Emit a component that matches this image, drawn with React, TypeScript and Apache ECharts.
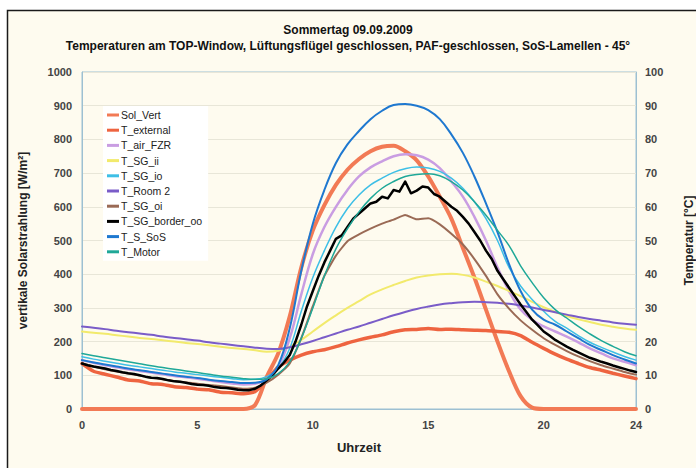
import React, { useEffect, useRef } from "react";
import * as echarts from "echarts";

const TITLE_1 = "Sommertag 09.09.2009";
const TITLE_2 = "Temperaturen am TOP-Window, Lüftungsflügel geschlossen, PAF-geschlossen, SoS-Lamellen - 45°";
const X_NAME = "Uhrzeit";
const Y_LEFT_NAME = "vertikale Solarstrahlung [W/m²]";
const Y_RIGHT_NAME = "Temperatur [°C]";

// half-hour grid 0..24
const HOURS: number[] = Array.from({ length: 49 }, (_, i) => i * 0.5);
// quarter-hour grid 0..24
const HOURS_Q: number[] = Array.from({ length: 97 }, (_, i) => i * 0.25);

const SOL_VERT = [
  0, 0, 0, 0, 0, 0, 0, 0, 0, 0, 0, 0, 0, 0, 0,
  12, 95, 165, 275, 420, 530, 605, 665, 710, 742, 765, 778, 781, 765, 738, 690, 630, 565, 478, 390, 295, 200, 112, 38, 4,
  0, 0, 0, 0, 0, 0, 0, 0, 0,
];
const T_EXTERNAL = [
  13.5, 11.2, 10.3, 9.5, 8.6, 8.3, 7.5, 7.3, 6.6, 6.4, 5.9, 5.7, 5.0, 4.8, 4.5, 5.2,
  8.5, 12.5, 14.5, 16.0, 17.0, 17.6, 18.5, 19.6, 20.5, 21.3, 22.0, 22.9, 23.5, 23.6, 23.9, 23.6,
  23.7, 23.5, 23.4, 23.3, 23.0, 22.8, 21.8, 19.8, 18.0, 16.3, 14.8, 13.5, 12.3, 11.5, 10.6, 9.8, 9.0,
];
const T_AIR_FZR = [
  14.5, 13.7, 13.0, 12.4, 11.8, 11.3, 10.8, 10.3, 9.8, 9.4, 9.0, 8.5, 8.0, 7.6, 7.3, 7.5,
  8.8, 12.5, 21.0, 34.0, 46.0, 54.0, 60.0, 65.0, 69.0, 71.7, 73.5, 75.0, 75.6, 75.3, 74.0, 71.5,
  67.5, 63.0, 57.0, 50.0, 42.0, 35.0, 29.5, 26.5, 24.5, 23.0, 21.5, 19.8, 18.0, 16.5, 15.0, 14.0, 13.0,
];
const T_SG_II = [
  23.0, 22.6, 22.3, 21.9, 21.5, 21.1, 20.8, 20.4, 20.0, 19.6, 19.3, 18.9, 18.5, 18.1, 17.8, 17.4,
  17.0, 17.3, 18.5, 20.5, 23.0, 25.5, 27.8, 30.0, 32.0, 34.0, 35.5, 36.8, 38.0, 39.0, 39.6, 40.0,
  40.1, 39.8, 39.0, 37.8, 36.5, 35.0, 33.5, 31.8, 30.2, 28.8, 27.6, 26.6, 25.8, 25.0, 24.4, 23.9, 23.5,
];
const T_SG_IO = [
  15.5, 14.8, 14.2, 13.6, 13.0, 12.5, 12.0, 11.5, 11.0, 10.6, 10.2, 9.8, 9.4, 9.0, 8.7, 8.8,
  9.6, 12.0, 18.0, 29.0, 39.0, 47.0, 54.0, 59.5, 63.5, 66.5, 68.5, 70.2, 71.3, 71.8, 71.5, 70.5,
  68.5, 65.5, 61.5, 56.5, 50.0, 42.0, 36.5, 32.5, 29.0, 26.0, 24.0, 21.8, 19.8, 18.3, 16.9, 15.6, 14.5,
];
const T_ROOM_2 = [
  24.5, 24.1, 23.7, 23.2, 22.8, 22.4, 22.0, 21.5, 21.1, 20.7, 20.3, 19.8, 19.4, 19.0, 18.6, 18.2,
  17.9, 17.8, 18.3, 19.2, 20.2, 21.3, 22.4, 23.5, 24.5, 25.6, 26.7, 27.8, 28.8, 29.7, 30.4, 31.0,
  31.4, 31.7, 31.8, 31.7, 31.5, 31.2, 30.7, 30.1, 29.4, 28.7, 28.0, 27.3, 26.7, 26.2, 25.7, 25.3, 25.0,
];
const T_SG_OI = [
  13.5, 12.6, 11.8, 11.1, 10.5, 9.9, 9.3, 8.8, 8.3, 7.9, 7.5, 7.1, 6.8, 6.4, 6.0, 6.3,
  7.8, 10.2, 13.5, 21.0, 30.5, 39.5, 45.5, 49.8, 51.8, 53.5, 55.0, 56.2, 57.6, 56.3, 56.6, 54.8,
  52.0, 48.8, 44.5, 39.5, 34.0, 29.8, 26.3, 23.5, 21.0, 19.0, 17.2, 15.6, 14.2, 13.0, 12.0, 11.0, 10.2,
];
const T_SG_BORDER_OO = [
  13.5, 13.0, 12.6, 12.3,
  12.0, 11.6, 11.3, 10.9,
  10.6, 10.4, 10.0, 9.6,
  9.3, 9.2, 8.9, 8.5,
  8.2, 8.1, 7.8, 7.4,
  7.2, 7.1, 6.9, 6.5,
  6.3, 6.2, 6.0, 5.7,
  5.6, 5.6, 6.0, 7.0,
  8.5, 10.0, 12.0, 13.8,
  16.0, 20.0, 25.0, 30.5,
  35.0, 39.5, 43.5, 47.0,
  50.5, 51.5, 54.0, 56.5,
  58.0, 59.5, 61.0, 61.5,
  63.0, 62.5, 65.0, 64.5,
  67.5, 64.0, 64.8, 66.0,
  65.7, 63.8, 63.0, 61.5,
  60.0, 58.8, 57.0, 55.0,
  52.5, 50.0, 47.0, 44.5,
  41.0, 38.5, 36.0, 33.5,
  31.0, 28.8, 26.5, 24.8,
  23.0, 21.8, 20.5, 19.5,
  18.5, 17.6, 16.8, 16.0,
  15.2, 14.6, 14.0, 13.5,
  12.9, 12.4, 11.9, 11.4,
  11.0,
];
const T_S_SOS = [
  14.5, 13.8, 13.2, 12.6, 12.0, 11.5, 11.0, 10.5, 10.0, 9.6, 9.2, 8.7, 8.3, 8.0, 7.7, 7.8,
  8.8, 13.0, 24.0, 41.0, 55.0, 65.0, 73.0, 78.5, 82.5, 86.0, 88.5, 90.2, 90.5, 90.0, 88.7, 86.0,
  81.5, 76.0, 69.0, 61.0, 52.5, 43.0, 35.0, 29.5, 26.5, 25.0, 23.0, 21.0, 19.0, 17.5, 16.0, 14.7, 13.5,
];
const T_MOTOR = [
  16.5, 15.8, 15.2, 14.6, 14.0, 13.4, 12.8, 12.3, 11.8, 11.3, 10.8, 10.3, 9.8, 9.4, 9.0, 8.8,
  9.0, 10.5, 14.0, 21.0, 30.0, 39.5, 47.5, 53.5, 58.5, 62.5, 65.5, 67.5, 69.0, 69.6, 69.8, 69.2,
  67.5, 65.0, 61.5, 57.5, 53.0, 48.5, 42.5, 37.5, 33.0, 29.5, 27.0, 24.5, 22.3, 20.3, 18.6, 17.0, 15.8,
];

const LEGEND_NAMES = [
  "Sol_Vert", "T_external", "T_air_FZR", "T_SG_ii", "T_SG_io",
  "T_Room 2", "T_SG_oi", "T_SG_border_oo", "T_S_SoS", "T_Motor",
];

const FONT = "'Liberation Sans', Arial, sans-serif";

function pairs(hours: number[], vals: number[]) {
  return vals.map((v, i) => [hours[i], v]);
}

export default function App() {
  const ref = useRef<HTMLDivElement>(null);
  useEffect(() => {
    if (!ref.current) return;
    const chart = echarts.init(ref.current, undefined, { renderer: "svg" });
    const mk = (
      name: string, hours: number[], vals: number[], color: string, width: number,
      yAxisIndex: number, smooth: number | boolean
    ) => ({
      name, type: "line", data: pairs(hours, vals), yAxisIndex, smooth,
      showSymbol: false, symbol: "none",
      lineStyle: { color, width, cap: "round", join: "round" },
      itemStyle: { color },
    });
    chart.setOption({
      animation: false,
      backgroundColor: "transparent",
      textStyle: { fontFamily: FONT },
      graphic: [
        {
          type: "rect", z: -10, silent: true,
          shape: { x: 7.5, y: 10.5, width: 720, height: 480 },
          style: { fill: "#FEFBEF", stroke: "#1a1a1a", lineWidth: 1.5 },
        },
        {
          type: "text", left: "center", top: 24, silent: true,
          style: { text: TITLE_1, font: `bold 12px ${FONT}`, fill: "#111" },
        },
        {
          type: "text", left: "center", top: 40, silent: true,
          style: { text: TITLE_2, font: `bold 12px ${FONT}`, fill: "#111" },
        },
      ],
      grid: {
        left: 82, right: 60, top: 72, bottom: 59,
        outerBoundsMode: "none", containLabel: false,
        show: true, borderColor: "#9DC0D2", borderWidth: 1, backgroundColor: "transparent",
      },
      legend: {
        orient: "vertical", left: 103, top: 106,
        data: LEGEND_NAMES,
        icon: "rect", itemWidth: 12, itemHeight: 3, itemGap: 3.2,
        backgroundColor: "#FFFFFF", padding: [3, 6, 3, 4],
        textStyle: { fontFamily: FONT, fontSize: 10.5, color: "#222", lineHeight: 12, padding: [0, 0, 0, -3] },
      },
      xAxis: {
        type: "value", min: 0, max: 24, interval: 5,
        name: X_NAME, nameLocation: "middle", nameGap: 32,
        nameTextStyle: { fontFamily: FONT, fontSize: 13, fontWeight: "bold", color: "#222" },
        axisLine: { show: true, lineStyle: { color: "#9DC0D2" } },
        axisTick: { show: false },
        axisLabel: { fontFamily: FONT, fontSize: 11, fontWeight: "bold", color: "#444", margin: 10 },
        splitLine: { show: false },
      },
      yAxis: [
        {
          type: "value", min: 0, max: 1000, interval: 100, position: "left",
          name: Y_LEFT_NAME, nameLocation: "middle", nameGap: 53, nameRotate: 90,
          nameTextStyle: { fontFamily: FONT, fontSize: 12, fontWeight: "bold", color: "#222" },
          axisLine: { show: true, lineStyle: { color: "#9DC0D2" } },
          axisTick: { show: false },
          axisLabel: {
            fontFamily: FONT, fontSize: 11, fontWeight: "bold", color: "#444", margin: 10,
            formatter: (v: number) => String(v),
          },
          splitLine: { show: true, lineStyle: { color: "#E8E6D8", width: 1 } },
        },
        {
          type: "value", min: 0, max: 100, interval: 10, position: "right",
          name: Y_RIGHT_NAME, nameLocation: "middle", nameGap: 47, nameRotate: 90,
          nameTextStyle: { fontFamily: FONT, fontSize: 12, fontWeight: "bold", color: "#222" },
          axisLine: { show: true, lineStyle: { color: "#9DC0D2" } },
          axisTick: { show: false },
          axisLabel: { fontFamily: FONT, fontSize: 11, fontWeight: "bold", color: "#444", margin: 9 },
          splitLine: { show: false },
        },
      ],
      series: [
        mk("Sol_Vert", HOURS, SOL_VERT, "#F27A55", 4, 0, 0.3),
        mk("T_external", HOURS, T_EXTERNAL, "#EE6440", 3.5, 1, 0.2),
        mk("T_air_FZR", HOURS, T_AIR_FZR, "#C99DE2", 2.5, 1, 0.4),
        mk("T_SG_ii", HOURS, T_SG_II, "#F2EA6C", 2, 1, 0.4),
        mk("T_SG_io", HOURS, T_SG_IO, "#3EBFE6", 1.5, 1, 0.4),
        mk("T_Room 2", HOURS, T_ROOM_2, "#7A5CC8", 2, 1, 0.4),
        mk("T_SG_oi", HOURS, T_SG_OI, "#9A6A55", 2, 1, 0.15),
        mk("T_SG_border_oo", HOURS_Q, T_SG_BORDER_OO, "#000000", 2.5, 1, false),
        mk("T_S_SoS", HOURS, T_S_SOS, "#1E78D0", 2, 1, 0.4),
        mk("T_Motor", HOURS, T_MOTOR, "#1FA898", 1.5, 1, 0.4),
      ],
    });
    return () => chart.dispose();
  }, []);
  return (
    <div
      ref={ref}
      style={{ position: "fixed", left: 0, top: 0, width: 696, height: 468, background: "#FFFFFF" }}
    />
  );
}
